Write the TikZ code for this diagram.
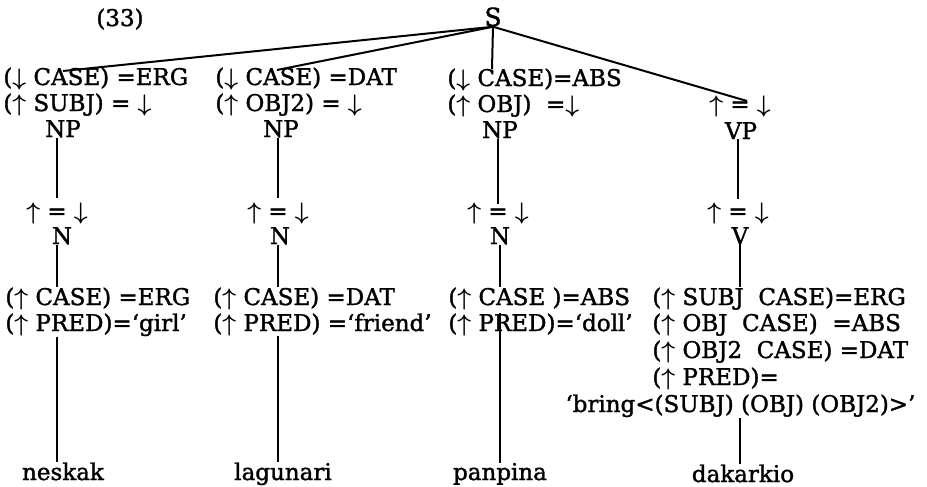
\documentclass[tikz,border=0pt]{standalone}
\usepackage{fontspec}
\setmainfont{DejaVu Serif}[FakeBold=1.5]
\newcommand\upa{{\boldmath$\uparrow$}}
\newcommand\dna{{\boldmath$\downarrow$}}
\begin{document}
\begin{tikzpicture}[x=0.5pt,y=-0.5pt,
  lbl/.style={inner sep=0pt, font=\fontsize{11.5}{13}\selectfont},
  row/.style={lbl, anchor=base west},
  cat/.style={lbl, anchor=base},
  edge/.style={line width=1pt}]
\useasboundingbox (0,0) rectangle (927,487);

% example number and root
\node[cat] (num) at (120,26) {(33)};
\node[cat, font=\fontsize{12.5}{14}\selectfont] (s) at (493,26) {S};

% first daughter: subject NP
\node[row] (a1) at (3,85) {(\dna\ CASE) =ERG};
\node[row] (b1) at (3,111) {(\upa\ SUBJ) = \dna};
\node[cat] (np1) at (63,137) {NP};
\node[cat] (e1) at (57,219) {\upa\ = \dna};
\node[cat] (n1) at (62,244) {N};
\node[row] (f1a) at (5,305) {(\upa\ CASE) =ERG};
\node[row] (f1b) at (5,331) {(\upa\ PRED)=‘girl’};
\node[cat] (w1) at (63,480) {neskak};

% second daughter: OBJ2 NP
\node[row] (a2) at (215,85) {(\dna\ CASE) =DAT};
\node[row] (b2) at (215,111) {(\upa\ OBJ2) = \dna};
\node[cat] (np2) at (281,137) {NP};
\node[cat] (e2) at (278,219) {\upa\ = \dna};
\node[cat] (n2) at (280,244) {N};
\node[row] (f2a) at (213,305) {(\upa\ CASE) =DAT};
\node[row] (f2b) at (213,331) {(\upa\ PRED) =‘friend’};
\node[cat] (w2) at (283,480) {lagunari};

% third daughter: OBJ NP
\node[row] (a3) at (447,86) {(\dna\ CASE)=ABS};
\node[row] (b3) at (447,112) {(\upa\ OBJ)\ \ =\dna};
\node[cat] (np3) at (500,138) {NP};
\node[cat] (e3) at (498,219) {\upa\ = \dna};
\node[cat] (n3) at (500,244) {N};
\node[row] (f3a) at (448,305) {(\upa\ CASE )=ABS};
\node[row] (f3b) at (448,331) {(\upa\ PRED)=‘doll’};
\node[cat] (w3) at (500,480) {panpina};

% fourth daughter: VP
\node[cat] (e4t) at (740,112) {\upa\ = \dna};
\node[cat] (vp) at (741,139) {VP};
\node[cat] (e4) at (738,219) {\upa\ = \dna};
\node[cat] (v) at (740,244) {V};
\node[row] (f4a) at (652,305) {(\upa\ SUBJ\ \ CASE)=ERG};
\node[row] (f4b) at (652,331) {(\upa\ OBJ\ \ CASE)\ \ =ABS};
\node[row] (f4c) at (652,358) {(\upa\ OBJ2\ \ CASE) =DAT};
\node[row] (f4d) at (652,385) {(\upa\ PRED)=};
\node[row] (f4e) at (565,412) {‘bring<(SUBJ)\ (OBJ)\ (OBJ2)>’};
\node[cat] (w4) at (743,482) {dakarkio};

% landing points of the branches from S
\coordinate (t1) at (63,71);
\coordinate (t2) at (277,70);
\coordinate (t3) at (492,69);
\coordinate (t4) at (747,101);

\draw[edge] (s.south) -- (t1);
\draw[edge] (s.south) -- (t2);
\draw[edge] (s.south) -- (t3);
\draw[edge] (s.south) -- (t4);

% NP/VP down to the annotation of the head
\draw[edge] (e1.base |- np1.south) -- ([yshift=10.5pt]e1.base);
\draw[edge] (e2.base |- np2.south) -- ([yshift=10.5pt]e2.base);
\draw[edge] (e3.base |- np3.south) -- ([yshift=7.5pt]e3.base);
\draw[edge] (e4.base |- vp.south) -- ([yshift=10pt]e4.base);

% heads down to their lexical entries
\draw[edge] (e1.base |- n1.south) -- (e1.base |- f1a.north);
\draw[edge] (e2.base |- n2.south) -- (e2.base |- f2a.north);
\draw[edge] (n3.south) -- (n3.south |- f3a.north);
\draw[edge] (v.south) -- (v.south |- f4a.north);

% lexical entries down to the words
\draw[edge] (e1.base |- f1b.south) -- (e1.base |- w1.north);
\draw[edge] (e2.base |- f2b.south) -- (e2.base |- w2.north);
\draw[edge] (w3.north |- f3b.north) -- (w3.north);
\draw[edge] (v.south |- f4e.south) -- (v.south |- w4.north);
\end{tikzpicture}
\end{document}
